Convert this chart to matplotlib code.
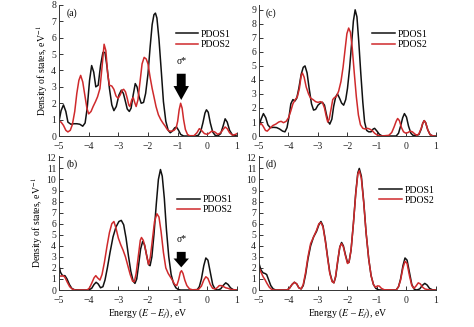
import matplotlib
matplotlib.use("Agg")
import matplotlib.pyplot as plt

# ---------------- DATA ----------------
energy_ticks = [-5, -4, -3, -2, -1, 0, 1]
series_names = ["PDOS1", "PDOS2"]

# panel (a)
a_pdos1 = [(-5.0, 0.9), (-4.93, 1.55), (-4.85, 1.9), (-4.77, 1.5), (-4.7, 0.85), (-4.6, 0.72), (-4.5, 0.75),
           (-4.4, 0.75), (-4.3, 0.72), (-4.2, 0.6), (-4.12, 0.8), (-4.05, 1.7), (-3.97, 3.4), (-3.9, 4.3),
           (-3.83, 3.9), (-3.76, 3.0), (-3.68, 3.1), (-3.6, 4.3), (-3.52, 5.1), (-3.45, 5.1), (-3.38, 4.2),
           (-3.3, 2.9), (-3.22, 1.9), (-3.15, 1.55), (-3.07, 1.8), (-2.98, 2.5), (-2.9, 2.8), (-2.83, 2.6),
           (-2.76, 2.1), (-2.7, 1.65), (-2.63, 1.5), (-2.57, 1.7), (-2.5, 2.5), (-2.43, 3.2), (-2.37, 3.0),
           (-2.3, 2.4), (-2.23, 2.0), (-2.15, 2.05), (-2.08, 2.6), (-2.0, 3.8), (-1.93, 5.4), (-1.86, 6.8),
           (-1.8, 7.4), (-1.75, 7.5), (-1.7, 7.2), (-1.63, 5.9), (-1.55, 3.9), (-1.48, 2.1), (-1.4, 0.9),
           (-1.32, 0.35), (-1.25, 0.2), (-1.18, 0.3), (-1.1, 0.5), (-1.04, 0.55), (-0.97, 0.35), (-0.9, 0.1),
           (-0.8, 0.0), (-0.4, 0.0), (-0.3, 0.05), (-0.22, 0.3), (-0.15, 0.8), (-0.08, 1.4), (-0.03, 1.6),
           (0.03, 1.45), (0.1, 0.8), (0.18, 0.25), (0.26, 0.05), (0.35, 0.0), (0.45, 0.15), (0.53, 0.6),
           (0.6, 1.05), (0.67, 0.85), (0.75, 0.35), (0.85, 0.05), (1.0, 0.0)]
a_pdos2 = [(-5.0, 0.9), (-4.93, 0.85), (-4.85, 0.65), (-4.77, 0.35), (-4.7, 0.25), (-4.62, 0.35), (-4.55, 0.7),
           (-4.47, 1.5), (-4.4, 2.6), (-4.33, 3.4), (-4.27, 3.7), (-4.2, 3.3), (-4.13, 2.5), (-4.06, 1.7),
           (-4.0, 1.35), (-3.92, 1.5), (-3.85, 1.8), (-3.77, 2.1), (-3.7, 2.4), (-3.62, 2.9), (-3.55, 4.2),
           (-3.48, 5.6), (-3.42, 5.2), (-3.36, 3.8), (-3.3, 3.1), (-3.22, 3.05), (-3.15, 2.85), (-3.08, 2.45),
           (-3.01, 2.3), (-2.94, 2.5), (-2.87, 2.8), (-2.82, 2.85), (-2.76, 2.7), (-2.7, 2.3), (-2.65, 1.9),
           (-2.61, 1.8), (-2.55, 2.2), (-2.5, 2.35), (-2.44, 2.0), (-2.4, 1.8), (-2.34, 2.2), (-2.27, 3.3),
           (-2.2, 4.4), (-2.13, 4.8), (-2.06, 4.7), (-2.0, 4.4), (-1.93, 3.6), (-1.86, 2.9), (-1.8, 2.4),
           (-1.73, 1.8), (-1.65, 1.3), (-1.57, 1.0), (-1.5, 0.8), (-1.42, 0.6), (-1.35, 0.4), (-1.28, 0.3),
           (-1.2, 0.3), (-1.12, 0.35), (-1.05, 0.5), (-1.0, 0.9), (-0.95, 1.6), (-0.9, 2.0), (-0.85, 1.7),
           (-0.8, 1.0), (-0.74, 0.4), (-0.67, 0.1), (-0.6, 0.02), (-0.45, 0.02), (-0.35, 0.2), (-0.27, 0.45),
           (-0.2, 0.35), (-0.1, 0.15), (0.0, 0.1), (0.08, 0.2), (0.15, 0.3), (0.25, 0.25), (0.35, 0.1),
           (0.45, 0.2), (0.53, 0.4), (0.6, 0.55), (0.67, 0.45), (0.75, 0.2), (0.85, 0.05), (0.95, 0.1), (1.0, 0.15)]

# panel (b)
b_pdos1 = [(-5.0, 2.2), (-4.95, 1.6), (-4.88, 1.3), (-4.8, 1.3), (-4.73, 1.0), (-4.65, 0.5), (-4.57, 0.15),
           (-4.48, 0.02), (-4.3, 0.0), (-4.0, 0.0), (-3.9, 0.15), (-3.82, 0.5), (-3.75, 0.7), (-3.68, 0.55),
           (-3.6, 0.2), (-3.52, 0.3), (-3.45, 0.9), (-3.37, 2.0), (-3.28, 3.4), (-3.18, 4.8), (-3.08, 5.7),
           (-2.98, 6.2), (-2.9, 6.3), (-2.82, 5.9), (-2.74, 4.7), (-2.66, 3.1), (-2.58, 1.7), (-2.5, 0.8),
           (-2.44, 0.6), (-2.38, 1.0), (-2.32, 2.2), (-2.25, 3.7), (-2.18, 4.4), (-2.12, 4.1), (-2.05, 3.2),
           (-1.98, 2.3), (-1.93, 2.2), (-1.87, 3.0), (-1.8, 5.0), (-1.72, 7.8), (-1.65, 10.0), (-1.58, 10.9),
           (-1.52, 10.3), (-1.45, 8.3), (-1.38, 5.5), (-1.3, 3.0), (-1.22, 1.4), (-1.14, 0.6), (-1.06, 0.2),
           (-0.98, 0.05), (-0.9, 0.0), (-0.35, 0.0), (-0.27, 0.3), (-0.2, 1.0), (-0.12, 2.2), (-0.05, 2.9),
           (0.02, 2.7), (0.1, 1.6), (0.18, 0.5), (0.26, 0.08), (0.35, 0.0), (0.45, 0.1), (0.53, 0.4),
           (0.62, 0.65), (0.7, 0.5), (0.78, 0.2), (0.88, 0.02), (1.0, 0.0)]
b_pdos2 = [(-5.0, 1.3), (-4.93, 1.25), (-4.86, 1.3), (-4.8, 1.15), (-4.72, 0.7), (-4.64, 0.3), (-4.55, 0.08),
           (-4.45, 0.0), (-4.05, 0.0), (-3.97, 0.2), (-3.9, 0.6), (-3.82, 1.1), (-3.76, 1.3), (-3.7, 1.1),
           (-3.62, 0.9), (-3.55, 1.4), (-3.47, 2.5), (-3.38, 4.0), (-3.3, 5.2), (-3.22, 6.0), (-3.15, 6.2),
           (-3.08, 5.6), (-3.0, 4.7), (-2.92, 4.1), (-2.84, 3.6), (-2.76, 3.0), (-2.68, 2.2), (-2.6, 1.4),
           (-2.52, 0.8), (-2.46, 0.75), (-2.4, 1.5), (-2.33, 3.0), (-2.26, 4.5), (-2.22, 4.75), (-2.16, 4.5),
           (-2.1, 3.9), (-2.04, 3.0), (-1.98, 2.3), (-1.92, 3.0), (-1.85, 4.6), (-1.78, 6.2), (-1.7, 6.9),
           (-1.63, 6.6), (-1.56, 5.3), (-1.48, 3.4), (-1.4, 2.0), (-1.32, 1.5), (-1.25, 1.2), (-1.18, 0.9),
           (-1.1, 0.5), (-1.03, 0.4), (-0.97, 0.9), (-0.91, 1.6), (-0.87, 1.75), (-0.82, 1.5), (-0.76, 0.9),
           (-0.69, 0.4), (-0.6, 0.1), (-0.5, 0.02), (-0.3, 0.05), (-0.2, 0.35), (-0.12, 0.9), (-0.05, 1.2),
           (0.02, 1.05), (0.1, 0.5), (0.18, 0.15), (0.26, 0.1), (0.33, 0.2), (0.4, 0.4), (0.47, 0.4),
           (0.55, 0.3), (0.62, 0.2), (0.7, 0.15), (0.8, 0.05), (1.0, 0.0)]

# panel (c)
c_pdos1 = [(-5.0, 0.7), (-4.93, 1.2), (-4.85, 1.6), (-4.77, 1.3), (-4.7, 0.8), (-4.62, 0.6), (-4.5, 0.62),
           (-4.4, 0.6), (-4.3, 0.5), (-4.2, 0.35), (-4.12, 0.3), (-4.05, 0.6), (-3.98, 1.4), (-3.92, 2.3),
           (-3.85, 2.6), (-3.78, 2.5), (-3.72, 2.7), (-3.65, 3.4), (-3.57, 4.4), (-3.5, 4.9), (-3.44, 5.0),
           (-3.37, 4.5), (-3.3, 3.4), (-3.22, 2.3), (-3.15, 1.85), (-3.08, 1.9), (-3.0, 2.2), (-2.92, 2.35),
           (-2.85, 2.4), (-2.78, 2.2), (-2.72, 1.6), (-2.66, 1.05), (-2.6, 0.85), (-2.53, 1.2), (-2.47, 2.1),
           (-2.4, 2.8), (-2.34, 3.0), (-2.27, 2.7), (-2.2, 2.35), (-2.13, 2.2), (-2.06, 2.6), (-2.0, 3.4),
           (-1.93, 4.8), (-1.86, 6.6), (-1.8, 8.2), (-1.74, 9.0), (-1.68, 8.5), (-1.62, 6.8), (-1.55, 4.5),
           (-1.48, 2.4), (-1.42, 1.0), (-1.35, 0.4), (-1.28, 0.3), (-1.2, 0.3), (-1.13, 0.5), (-1.08, 0.55),
           (-1.0, 0.35), (-0.92, 0.12), (-0.82, 0.0), (-0.35, 0.0), (-0.27, 0.2), (-0.2, 0.7), (-0.13, 1.3),
           (-0.07, 1.6), (0.0, 1.35), (0.07, 0.7), (0.15, 0.2), (0.22, 0.05), (0.3, 0.05), (0.42, 0.1),
           (0.5, 0.5), (0.55, 0.9), (0.6, 1.1), (0.65, 0.95), (0.72, 0.45), (0.8, 0.1), (0.9, 0.0), (1.0, 0.0)]
c_pdos2 = [(-5.0, 0.75), (-4.93, 0.9), (-4.86, 0.7), (-4.78, 0.4), (-4.72, 0.35), (-4.63, 0.55), (-4.53, 0.75),
           (-4.43, 0.85), (-4.33, 1.0), (-4.25, 1.05), (-4.17, 0.95), (-4.08, 1.05), (-4.0, 1.3), (-3.92, 1.8),
           (-3.85, 2.3), (-3.77, 2.6), (-3.7, 2.8), (-3.63, 3.4), (-3.57, 4.3), (-3.53, 4.5), (-3.47, 4.2),
           (-3.4, 3.5), (-3.32, 3.0), (-3.25, 2.7), (-3.17, 2.6), (-3.08, 2.45), (-3.0, 2.4), (-2.92, 2.45),
           (-2.85, 2.4), (-2.78, 2.0), (-2.72, 1.4), (-2.67, 1.0), (-2.62, 1.2), (-2.55, 2.0), (-2.5, 2.6),
           (-2.44, 2.75), (-2.38, 2.8), (-2.3, 3.2), (-2.22, 3.9), (-2.15, 4.9), (-2.08, 6.2), (-2.02, 7.3),
           (-1.96, 7.7), (-1.9, 7.4), (-1.84, 6.3), (-1.77, 4.5), (-1.7, 2.8), (-1.63, 1.5), (-1.56, 0.8),
           (-1.48, 0.55), (-1.4, 0.5), (-1.32, 0.55), (-1.25, 0.5), (-1.17, 0.4), (-1.08, 0.2), (-0.98, 0.05),
           (-0.85, 0.0), (-0.6, 0.05), (-0.5, 0.25), (-0.42, 0.65), (-0.35, 1.05), (-0.3, 1.25), (-0.24, 1.1),
           (-0.17, 0.6), (-0.1, 0.3), (-0.02, 0.2), (0.05, 0.25), (0.13, 0.35), (0.2, 0.3), (0.28, 0.15),
           (0.35, 0.05), (0.42, 0.15), (0.5, 0.55), (0.55, 0.9), (0.6, 1.1), (0.65, 0.95), (0.72, 0.45),
           (0.8, 0.1), (0.9, 0.0), (1.0, 0.0)]

# panel (d)
d_pdos1 = [(-5.0, 2.4), (-4.93, 1.8), (-4.86, 1.55), (-4.8, 1.5), (-4.74, 1.4), (-4.67, 0.9), (-4.6, 0.4),
           (-4.52, 0.1), (-4.43, 0.0), (-4.05, 0.0), (-3.97, 0.15), (-3.88, 0.5), (-3.8, 0.7), (-3.72, 0.55),
           (-3.65, 0.2), (-3.57, 0.1), (-3.5, 0.4), (-3.42, 1.4), (-3.34, 2.8), (-3.25, 4.0), (-3.15, 4.8),
           (-3.05, 5.3), (-2.97, 5.9), (-2.9, 6.2), (-2.83, 5.8), (-2.75, 4.5), (-2.67, 2.9), (-2.6, 1.6),
           (-2.52, 0.8), (-2.46, 0.65), (-2.4, 1.2), (-2.33, 2.6), (-2.26, 3.9), (-2.2, 4.3), (-2.14, 4.0),
           (-2.07, 3.2), (-2.0, 2.5), (-1.95, 2.5), (-1.88, 3.6), (-1.8, 6.0), (-1.72, 8.8), (-1.65, 10.6),
           (-1.6, 11.0), (-1.53, 10.3), (-1.45, 8.0), (-1.37, 5.2), (-1.28, 2.8), (-1.2, 1.3), (-1.12, 0.5),
           (-1.04, 0.15), (-0.95, 0.02), (-0.85, 0.0), (-0.35, 0.0), (-0.27, 0.3), (-0.2, 1.0), (-0.12, 2.2),
           (-0.05, 2.9), (0.02, 2.7), (0.1, 1.6), (0.18, 0.5), (0.26, 0.08), (0.35, 0.0), (0.45, 0.1),
           (0.53, 0.4), (0.62, 0.6), (0.7, 0.45), (0.78, 0.15), (0.88, 0.02), (1.0, 0.0)]
d_pdos2 = [(-5.0, 2.0), (-4.93, 1.6), (-4.86, 1.2), (-4.8, 0.95), (-4.73, 0.6), (-4.65, 0.25), (-4.57, 0.05),
           (-4.48, 0.0), (-4.05, 0.0), (-3.97, 0.15), (-3.88, 0.5), (-3.8, 0.7), (-3.72, 0.55), (-3.65, 0.2),
           (-3.57, 0.1), (-3.5, 0.5), (-3.42, 1.6), (-3.34, 3.0), (-3.25, 4.2), (-3.15, 4.8), (-3.05, 5.4),
           (-2.97, 6.0), (-2.9, 6.1), (-2.83, 5.7), (-2.75, 4.4), (-2.67, 2.8), (-2.6, 1.5), (-2.52, 0.75),
           (-2.46, 0.65), (-2.4, 1.3), (-2.33, 2.7), (-2.26, 3.9), (-2.2, 4.2), (-2.14, 3.9), (-2.07, 3.1),
           (-2.0, 2.4), (-1.95, 2.5), (-1.88, 3.6), (-1.8, 6.0), (-1.72, 8.7), (-1.65, 10.5), (-1.6, 10.8),
           (-1.53, 10.1), (-1.45, 7.9), (-1.37, 5.2), (-1.28, 2.8), (-1.2, 1.3), (-1.12, 0.5), (-1.05, 0.25),
           (-0.98, 0.38), (-0.92, 0.35), (-0.85, 0.15), (-0.75, 0.02), (-0.35, 0.0), (-0.27, 0.3), (-0.2, 0.9),
           (-0.12, 2.0), (-0.05, 2.6), (0.02, 2.4), (0.1, 1.3), (0.18, 0.4), (0.25, 0.15), (0.32, 0.35),
           (0.4, 0.65), (0.47, 0.55), (0.55, 0.25), (0.62, 0.1), (0.7, 0.05), (0.8, 0.0), (1.0, 0.0)]

# sigma* arrows: (x, top, tip, head length) in data units
a_arrow = (-0.88, 3.8, 2.2, 0.85)
b_arrow = (-0.88, 3.45, 2.05, 0.8)

# ---------------- STYLE ----------------
plt.rcParams['font.family'] = ['Liberation Serif', 'DejaVu Serif']
plt.rcParams['mathtext.fontset'] = 'stix'
plt.rcParams['font.size'] = 7

BLACK = '#111111'
RED = '#cf2a2c'

fig = plt.figure(figsize=(4.74, 3.27), dpi=100)

# [left, bottom, width, height] in figure fraction
panels = {
    'a': dict(pos=[0.1245, 0.584, 0.3755, 0.401], ylim=8.0, yticks=range(0, 9), data=(a_pdos1, a_pdos2),
              arrow=a_arrow, leg=(0.655, 0.81)),
    'c': dict(pos=[0.5464, 0.584, 0.3734, 0.401], ylim=9.35, yticks=range(0, 10), data=(c_pdos1, c_pdos2),
              arrow=None, leg=(0.64, 0.81)),
    'b': dict(pos=[0.1245, 0.1131, 0.3755, 0.409], ylim=12.1, yticks=range(0, 13), data=(b_pdos1, b_pdos2),
              arrow=b_arrow, leg=(0.665, 0.71)),
    'd': dict(pos=[0.5464, 0.1131, 0.3734, 0.409], ylim=12.1, yticks=range(0, 13), data=(d_pdos1, d_pdos2),
              arrow=None, leg=(0.68, 0.78)),
}

for name, p in panels.items():
    ax = fig.add_axes(p['pos'])
    for pts, col, lab in zip(p['data'], (BLACK, RED), series_names):
        xs, ys = zip(*pts)
        ax.plot(xs, ys, color=col, lw=1.1, label=lab, solid_joinstyle='round')

    ax.set_xlim(-5, 1)
    ax.set_ylim(0, p['ylim'])
    ax.set_xticks(energy_ticks)
    ax.set_yticks(list(p['yticks']))
    ax.spines['top'].set_visible(False)
    ax.spines['right'].set_visible(False)
    for s in ('left', 'bottom'):
        ax.spines[s].set_linewidth(0.7)
        ax.spines[s].set_color('#333333')
    ax.tick_params(direction='in', length=3, width=0.7, labelsize=7, colors='#333333',
                   labelcolor='#222222')
    ax.tick_params(axis='x', pad=4)
    ax.tick_params(axis='y', pad=2)

    ax.text(0.04, 0.94, f"({name})", transform=ax.transAxes, ha='left', va='center', fontsize=7)

    ax.legend(loc='upper left', bbox_to_anchor=p['leg'], frameon=False, fontsize=7,
              handlelength=2.3, handletextpad=0.3, borderpad=0, borderaxespad=0, labelspacing=0.12)

    if p['arrow'] is not None:
        x0, top, tip, hl = p['arrow']
        ax.arrow(x0, top, 0, tip - top + hl, width=0.3, head_width=0.52, head_length=hl,
                 length_includes_head=False, color='black', lw=0)
        ax.text(x0, top + 0.09 * p['ylim'], "σ*", ha='center', va='center', fontsize=7)

    if name in ('a', 'b'):
        ax.set_ylabel("Density of states, eV$^{-1}$", fontsize=7, labelpad=1)
    if name in ('b', 'd'):
        ax.set_xlabel("Energy ($E$ – $E_f$), eV", fontsize=7, labelpad=1)

fig.savefig("out.png", dpi=100)
